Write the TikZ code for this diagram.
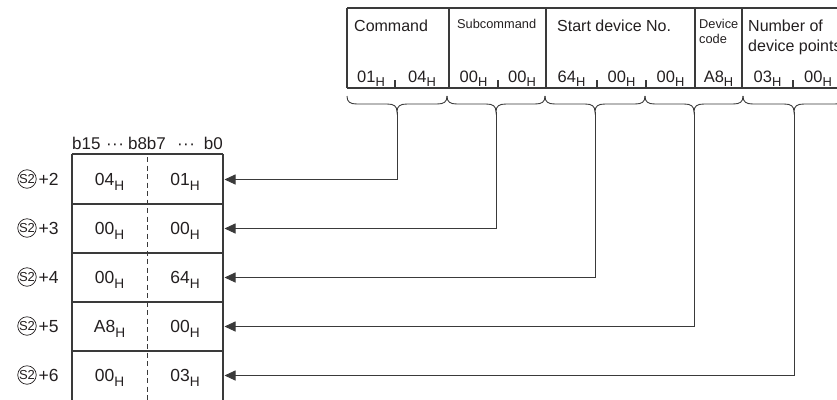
\documentclass[tikz,border=0pt]{standalone}
\usepackage{fontspec}
\setmainfont{Liberation Sans}
\usepackage{graphicx}
\usetikzlibrary{arrows.meta}
\newcommand{\Hsub}{\raisebox{-0.3em}{\scalebox{0.78}{H}}}
\definecolor{linecol}{HTML}{3A3A3A}
\definecolor{txtcol}{HTML}{231F20}
\begin{document}
\begin{tikzpicture}[x=1pt,y=-1pt,
  tline/.style={draw=linecol,line width=1.1pt},
  brc/.style={draw=linecol,line width=0.9pt},
  dline/.style={draw=linecol,line width=1pt,dash pattern=on 5pt off 3.5pt},
  arr/.style={draw=linecol,line width=0.9pt,-{Triangle[length=11pt,width=10pt]}},
  lab/.style={font=\fontsize{16}{19}\selectfont,inner sep=0pt,text=txtcol},
  slab/.style={font=\fontsize{12.8}{15}\selectfont,inner sep=0pt,text=txtcol},
  val/.style={font=\fontsize{16.5}{19}\selectfont,inner sep=0pt,text=txtcol,anchor=base},
  cval/.style={font=\fontsize{17.5}{20}\selectfont,inner sep=0pt,text=txtcol,anchor=base},
  rlab/.style={font=\fontsize{17.5}{20}\selectfont,inner sep=0pt,text=txtcol,anchor=base west},
  circ/.style={circle,draw=txtcol,line width=0.7pt,minimum size=18.5pt,inner sep=0pt,font=\fontsize{13}{13}\selectfont,text=txtcol}]
\useasboundingbox (0,0) rectangle (837,399);
\clip (0,0) rectangle (837,399);
% ---------- top table ----------
\draw[tline] (347,8) -- (850,8);
\draw[tline] (347,88) -- (850,88);
\foreach \x in {347,449,546,695,742} \draw[tline] (\x,8) -- (\x,88);
\foreach \x in {395,498,597,646,793} \draw[tline] (\x,80) -- (\x,88);
\node[lab,anchor=base west] (tcmd) at (354,31) {Command};
\node[slab,anchor=base west] (tsub) at (457,28) {Subcommand};
\node[lab,anchor=base west] (tstart) at (557,31) {Start device No.};
\node[slab,anchor=base west] (tdev1) at (699,28) {Device};
\node[slab,anchor=base west] (tdev2) at (699,43) {code};
\node[lab,anchor=base west] (tnum1) at (748,31) {Number of};
\node[lab,anchor=base west] (tnum2) at (748,51) {device points};
\node[val] (v1) at (371,82) {01\Hsub};
\node[val] (v2) at (422,82) {04\Hsub};
\node[val] (v3) at (473.5,82) {00\Hsub};
\node[val] (v4) at (522,82) {00\Hsub};
\node[val] (v5) at (571.5,82) {64\Hsub};
\node[val] (v6) at (621.5,82) {00\Hsub};
\node[val] (v7) at (670.5,82) {00\Hsub};
\node[val] (v8) at (718.5,82) {A8\Hsub};
\node[val] (v9) at (767.5,82) {03\Hsub};
\node[val] (v10) at (818,82) {00\Hsub};
% ---------- braces ----------
\foreach \a/\b/\n in {347/447/1,447/545/2,545/645/3,645/743/4,743/845/5}{
  \pgfmathsetmacro{\c}{(\a+\b)/2}
  \draw[brc] (\a,96) .. controls (\a,102) and (\a+3,104) .. (\a+10,104) -- (\c-10,104)
    .. controls (\c-3,104) and (\c,106) .. (\c,112)
    .. controls (\c,106) and (\c+3,104) .. (\c+10,104) -- (\b-10,104)
    .. controls (\b-3,104) and (\b,102) .. (\b,96);
  \coordinate (c\n) at (\c,112);
}
% ---------- left table ----------
\foreach \y in {154,204,253,302,351} \draw[tline] (72,\y) -- (223,\y);
\draw[tline] (72,154) -- (72,405);
\draw[tline] (223,154) -- (223,405);
\draw[dline] (147,157) -- (147,405);
\node[lab,font=\fontsize{17}{20}\selectfont,anchor=base west] (hb15) at (72,149) {b15};
\node[lab,font=\fontsize{17}{20}\selectfont,anchor=base] (hdots1) at (115,149) {\textperiodcentered\kern0.5pt\textperiodcentered\kern0.5pt\textperiodcentered};
\node[lab,font=\fontsize{17}{20}\selectfont,anchor=base] (hb8b7) at (147,149) {b8b7};
\node[lab,font=\fontsize{17}{20}\selectfont,anchor=base] (hdots2) at (186,149) {\textperiodcentered\kern0.5pt\textperiodcentered\kern0.5pt\textperiodcentered};
\node[lab,font=\fontsize{17}{20}\selectfont,anchor=base east] (hb0) at (223,149) {b0};
% rows
\foreach \n/\rc/\hi/\lo in {1/179.5/04/01,2/228.5/00/00,3/277.5/00/64,4/326.5/A8/00,5/375.5/00/03}{
  \node[cval] (h\n) at (109.5,\rc+6) {\hi\Hsub};
  \node[cval] (l\n) at (185,\rc+6) {\lo\Hsub};
  \node[circ] (s\n) at (27,\rc-0.5) {S2};
  \pgfmathtruncatemacro{\k}{\n+1}
  \node[rlab] (p\n) at (38.5,\rc+6) {+\k};
  \coordinate (r\n) at (224.5,\rc);
}
% ---------- connectors ----------
\foreach \n in {1,...,5} \draw[arr] (c\n) |- (r\n);
\end{tikzpicture}
\end{document}
